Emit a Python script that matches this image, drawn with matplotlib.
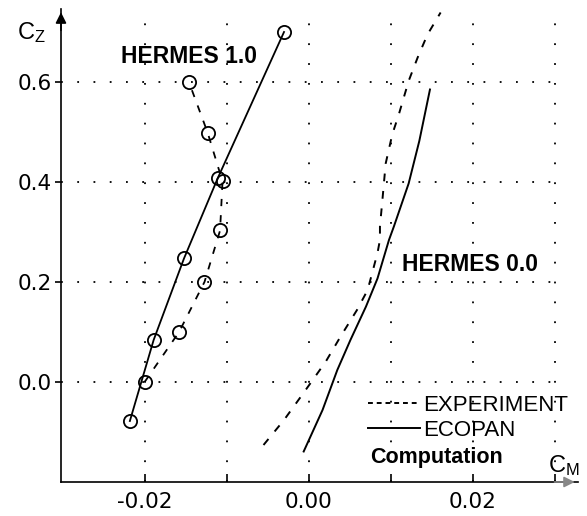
import matplotlib
matplotlib.use("Agg")
import matplotlib.pyplot as plt
from matplotlib.lines import Line2D

plt.rcParams['font.family'] = ['Liberation Sans', 'DejaVu Sans']
plt.rcParams['mathtext.fontset'] = 'custom'
plt.rcParams['mathtext.rm'] = 'Liberation Sans'

# HERMES 1.0 (alpha = 1.0), circles
h1_exp_cm = [-0.0200, -0.0158, -0.0127, -0.0108, -0.0105, -0.0123, -0.0146]
h1_exp_cz = [0.000, 0.100, 0.200, 0.303, 0.401, 0.498, 0.600]
h1_eco_cm = [-0.0218, -0.0189, -0.0152, -0.0111, -0.0030]
h1_eco_cz = [-0.078, 0.084, 0.247, 0.407, 0.700]

# HERMES 0.0
h0_exp_cm = [-0.0055, -0.0030, -0.0008, 0.0002, 0.0021, 0.0039, 0.0059, 0.0072,
             0.0084, 0.0087, 0.0087, 0.0090, 0.0094, 0.0102, 0.0110, 0.0122,
             0.0133, 0.0145, 0.0161]
h0_exp_cz = [-0.126, -0.076, -0.026, -0.003, 0.041, 0.091, 0.144, 0.184,
             0.258, 0.284, 0.311, 0.364, 0.437, 0.495, 0.535, 0.602,
             0.649, 0.695, 0.739]
h0_eco_cm = [-0.0006, 0.0017, 0.0035, 0.0051, 0.0070, 0.0084, 0.0098, 0.0104,
             0.0122, 0.0135, 0.0148]
h0_eco_cz = [-0.139, -0.056, 0.024, 0.084, 0.151, 0.207, 0.284, 0.311,
             0.397, 0.482, 0.585]

xticks = [-0.02, -0.01, 0.0, 0.01, 0.02, 0.03]
xticklabels = ["-0.02", "", "0.00", "", "0.02", ""]
yticks = [0.0, 0.2, 0.4, 0.6]
yticklabels = ["0.0", "0.2", "0.4", "0.6"]
legend_labels = ["EXPERIMENT", "ECOPAN"]

dash = (0, (4, 5))

fig = plt.figure(figsize=(5.87, 5.16), dpi=100)
ax = fig.add_axes([0.1039, 0.0659, 0.880, 0.9157])
ax.set_xlim(-0.0302, 0.0328)
ax.set_ylim(-0.2, 0.745)

# dotted grid
ax.vlines(xticks, -0.2, 0.725, colors='k', linewidth=1.3, linestyles=[(0, (1, 10))])
ax.hlines(yticks, -0.0302, 0.0302, colors='k', linewidth=1.3, linestyles=[(0, (1, 8))])

circ = dict(marker='o', markersize=9.5, markerfacecolor='none', markeredgecolor='k',
            markeredgewidth=1.3)
ax.plot(h1_exp_cm, h1_exp_cz, color='k', lw=1.3, linestyle=dash, **circ)
ax.plot(h1_eco_cm, h1_eco_cz, color='k', lw=1.3, linestyle='-', **circ)
ax.plot(h0_exp_cm, h0_exp_cz, color='k', lw=1.4, linestyle=dash)
ax.plot(h0_eco_cm, h0_eco_cz, color='k', lw=1.4, linestyle='-')

ax.text(-0.0229, 0.638, "HERMES 1.0", fontsize=16.5, fontweight='bold')
ax.text(0.0114, 0.221, "HERMES 0.0", fontsize=16.5, fontweight='bold')

handles = [Line2D([], [], color='k', lw=1.4, linestyle=(0, (2.5, 2))),
           Line2D([], [], color='k', lw=1.4, linestyle='-')]
ax.legend(handles, legend_labels, loc='upper left', bbox_to_anchor=(0.594, 0.185),
          frameon=False, prop={'size': 16}, handlelength=2.35, handletextpad=0.12,
          labelspacing=0.2, borderpad=0, borderaxespad=0)
ax.text(0.0075, -0.163, "Computation", fontsize=15.5, fontweight='bold')

ax.text(-0.085, 0.9376, r"$\mathrm{C_Z}$", transform=ax.transAxes, fontsize=17)
ax.text(0.943, 0.021, r"$\mathrm{C_M}$", transform=ax.transAxes, fontsize=17)

for s in ['top', 'right']:
    ax.spines[s].set_visible(False)
ax.spines['left'].set_linewidth(1.2)
ax.spines['bottom'].set_linewidth(1.2)

ax.set_xticks(xticks)
ax.set_xticklabels(xticklabels, family='DejaVu Sans')
ax.set_yticks(yticks)
ax.set_yticklabels(yticklabels, family='DejaVu Sans')
ax.tick_params(axis='x', direction='in', length=6, width=1.2, labelsize=15.5, pad=7)
ax.tick_params(axis='y', direction='out', length=4.5, width=1.2, labelsize=15.5, pad=2)

ax.annotate('', xy=(0, 1.0), xytext=(0, 0.95), xycoords='axes fraction',
            arrowprops=dict(arrowstyle='-|>', color='k', lw=1.2, mutation_scale=16))
ax.annotate('', xy=(1.0, 0), xytext=(0.95, 0), xycoords='axes fraction',
            arrowprops=dict(arrowstyle='-|>', color='#888888', lw=1.2, mutation_scale=16))

fig.savefig("out.png", dpi=100)
